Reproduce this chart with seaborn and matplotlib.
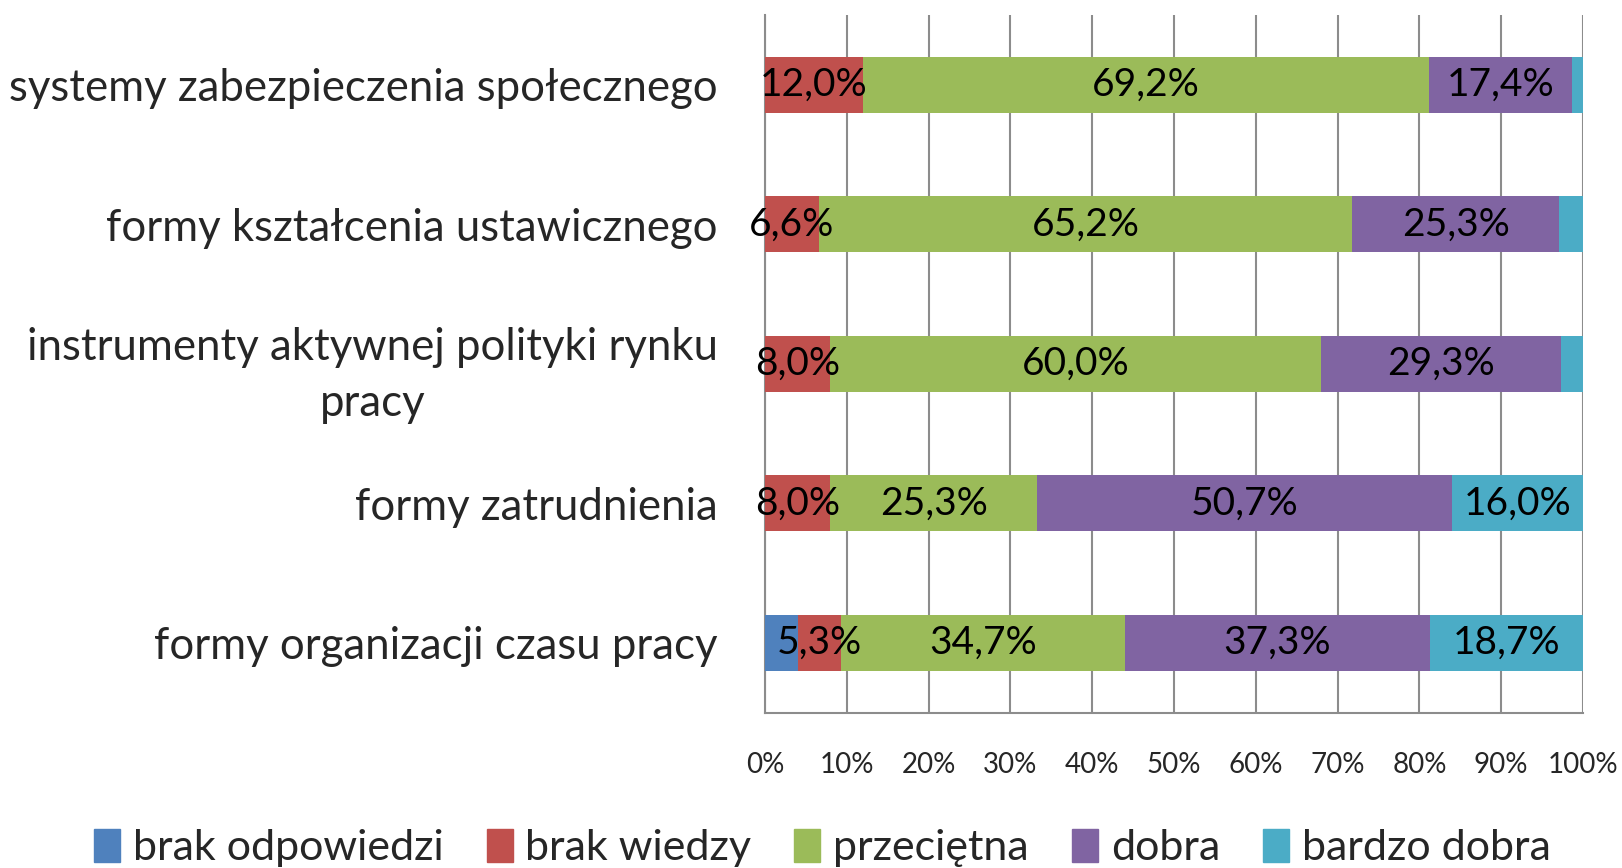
import matplotlib
matplotlib.use("Agg")
import matplotlib.pyplot as plt
import seaborn as sns
import pandas as pd
import numpy as np

categories = [
    "systemy zabezpieczenia społecznego",
    "formy kształcenia ustawicznego",
    "instrumenty aktywnej polityki rynku\npracy",
    "formy zatrudnienia",
    "formy organizacji czasu pracy",
]
series_names = ["brak odpowiedzi", "brak wiedzy", "przeciętna", "dobra", "bardzo dobra"]
brak_odpowiedzi = [0.0, 0.0, 0.0, 0.0, 4.0]
brak_wiedzy = [12.0, 6.6, 8.0, 8.0, 5.3]
przecietna = [69.2, 65.2, 60.0, 25.3, 34.7]
dobra = [17.4, 25.3, 29.3, 50.7, 37.3]
bardzo_dobra = [1.4, 2.9, 2.7, 16.0, 18.7]
colors = ["#4F81BD", "#C0504D", "#9BBB59", "#8064A2", "#4BACC6"]
xtick_labels = ["0%", "10%", "20%", "30%", "40%", "50%", "60%", "70%", "80%", "90%", "100%"]

sns.set_theme(style="white")
FONT = ["Lato", "DejaVu Sans"]
plt.rcParams["font.family"] = FONT

values = [brak_odpowiedzi, brak_wiedzy, przecietna, dobra, bardzo_dobra]
df = pd.DataFrame({name: v for name, v in zip(series_names, values)})
df["kategoria"] = categories
cum = df[series_names].cumsum(axis=1)

fig = plt.figure(figsize=(16.22, 8.68), dpi=100)
ax = fig.add_axes([765 / 1622, 1 - 712.7 / 868, (1583 - 765) / 1622, (712.7 - 15) / 868])

# stacked bars: draw cumulative totals from the last series backwards
for i in range(len(series_names) - 1, -1, -1):
    name = series_names[i]
    d = pd.DataFrame({"kategoria": categories, "x": cum[name].values})
    sns.barplot(data=d, y="kategoria", x="x", order=categories, color=colors[i],
                saturation=1, width=0.4, linewidth=0, ax=ax, zorder=3)

# labels
for i, name in enumerate(series_names):
    for j in range(len(categories)):
        v = df[name].iloc[j]
        if v >= 5:
            center = cum[name].iloc[j] - v / 2
            ax.text(center, j, f"{v:.1f}%".replace(".", ","), ha="center", va="center",
                    fontsize=28, color="black", zorder=5)

ax.set_xlim(0, 100)
ax.set_ylim(len(categories) - 0.5, -0.5)
ax.set_xticks(np.arange(0, 101, 10))
ax.set_xticklabels(xtick_labels, fontsize=20)
ax.xaxis.grid(True, color="#8c8c8c", linewidth=1.5, zorder=0)
ax.set_axisbelow(True)
ax.set_xlabel("")
ax.set_ylabel("")

# y ticks at category boundaries, labels at centers
ax.set_yticks(np.arange(len(categories)))
ax.set_yticklabels(categories, fontsize=31.5)
for t in ax.get_yticklabels():
    t.set_multialignment("center")
    t.set_linespacing(1.45)
ax.tick_params(axis="y", which="major", length=0, pad=34)
ax.set_yticks(np.arange(-0.5, len(categories), 1), minor=True)
ax.tick_params(axis="y", which="minor", length=11, width=1.5, color="#8c8c8c", direction="out")
ax.tick_params(axis="x", which="major", length=7, width=1.5, color="#8c8c8c", direction="out", pad=21)

for s in ["top", "right"]:
    ax.spines[s].set_visible(False)
for s in ["left", "bottom"]:
    ax.spines[s].set_color("#8c8c8c")
    ax.spines[s].set_linewidth(1.5)

handles = [plt.Rectangle((0, 0), 1, 1, color=c) for c in colors]
fig.legend(handles, series_names, loc="center", bbox_to_anchor=(0.507, 1 - 848 / 868),
           ncol=5, frameon=False, fontsize=31, handlelength=0.6, handleheight=0.8,
           handletextpad=0.3, columnspacing=1.0)

fig.savefig("out.png", dpi=100)
